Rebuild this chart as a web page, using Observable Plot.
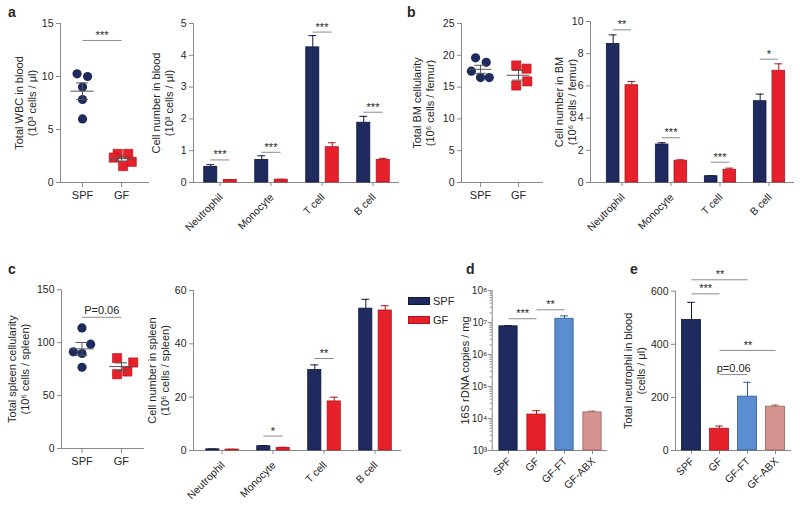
<!DOCTYPE html>
<html><head><meta charset="utf-8">
<script src="https://cdn.jsdelivr.net/npm/d3@7"></script>
<script src="https://cdn.jsdelivr.net/npm/@observablehq/plot@0.6"></script>
<style>
body{margin:0;background:#fff;}
#fig{position:relative;width:800px;height:506px;overflow:hidden;background:#fff;font-family:"Liberation Sans",Arial,Helvetica,sans-serif;color:#262626;}
.lab{position:absolute;font-weight:bold;font-size:14px;line-height:1;}
.sw{position:absolute;width:22px;height:8px;box-sizing:border-box;border:1px solid;}
.swt{position:absolute;font-size:11px;line-height:1;}
</style></head><body><div id="fig"></div>
<script>
// ---------- data ----------
const groups = ["SPF", "GF"];
const cells = ["Neutrophil", "Monocyte", "T cell", "B cell"];
const treat = ["SPF", "GF", "GF-FT", "GF-ABX"];

// a: total WBC in blood (10^3 cells/µl)
const wbcSPF = [10.25, 10.0, 9.0, 7.83, 6.0];
const wbcSPFjit = [-0.14, 0.13, 0, 0, 0];
const wbcGF = [2.7, 2.7, 2.35, 1.95, 1.55];
const wbcGFjit = [-0.1, 0.17, -0.2, 0.26, 0.04];
// a: cell numbers in blood
const bloodSPF = [0.49, 0.71, 4.25, 1.88];
const bloodSPFerr = [0.07, 0.13, 0.37, 0.2];
const bloodGF = [0.08, 0.09, 1.11, 0.71];
const bloodGFerr = [0.01, 0.01, 0.14, 0.05];
const bloodSig = [{c: "Neutrophil", y: 0.71, label: "***"}, {c: "Monocyte", y: 0.95, label: "***"},
                  {c: "T cell", y: 4.73, label: "***"}, {c: "B cell", y: 2.21, label: "***"}];

// b: total BM cellularity (10^6 cells/femur)
const bmSPF = [19.6, 18.9, 17.5, 16.5, 16.5];
const bmSPFjit = [-0.13, 0.15, -0.24, 0, 0.23];
const bmGF = [18.4, 17.9, 15.9, 15.25];
const bmGFjit = [-0.06, 0.21, 0.23, -0.06];
// b: cell numbers in BM
const bmCellSPF = [8.61, 2.36, 0.39, 5.05];
const bmCellSPFerr = [0.56, 0.11, 0.03, 0.44];
const bmCellGF = [6.04, 1.35, 0.79, 6.94];
const bmCellGFerr = [0.23, 0.06, 0.1, 0.43];
const bmSig = [{c: "Neutrophil", y: 9.48, label: "**"}, {c: "Monocyte", y: 2.78, label: "***"},
               {c: "T cell", y: 1.26, label: "***"}, {c: "B cell", y: 7.66, label: "*"}];

// c: total spleen cellularity (10^6 cells/spleen)
const spSPF = [114, 98.6, 91.4, 89.8, 76.8];
const spSPFjit = [0, 0.22, -0.22, 0, 0];
const spGF = [85.4, 81.3, 72.8, 70.2];
const spGFjit = [-0.11, 0.3, 0.15, -0.11];
// c: cell numbers in spleen
const spCellSPF = [0.45, 1.6, 30.2, 53.2];
const spCellSPFerr = [0.1, 0.25, 1.9, 3.5];
const spCellGF = [0.35, 1.0, 18.4, 52.5];
const spCellGFerr = [0.1, 0.2, 1.6, 1.8];
const spSig = [{c: "Monocyte", y: 5.4, label: "*"}, {c: "T cell", y: 34.5, label: "**"}];

// d: 16S rDNA copies / mg
const rdna = [7.6e6, 1.33e4, 1.31e7, 1.55e4];
const rdnaErr = [0.4e6, 0.42e4, 0.3e7, 0.15e4];
const rdnaSig = [{from: "SPF", to: "GF", y: 1.31e7, label: "***"}, {from: "GF", to: "GF-FT", y: 2.5e7, label: "**"}];

// e: total neutrophil in blood (cells/µl)
const neut = [492, 82, 203, 165];
const neutErr = [66, 10, 54, 6];
const neutSig = [{from: "SPF", to: "GF-FT", y: 643, label: "**"}, {from: "SPF", to: "GF", y: 590, label: "***"},
                 {from: "GF", to: "GF-ABX", y: 377, label: "**"}, {from: "GF", to: "GF-FT", y: 286, label: "p=0.06"}];

// ---------- style ----------
const FONT = '"Liberation Sans", Arial, Helvetica, sans-serif';
const FILL = {"SPF": "#1f2b5e", "GF": "#e6212b", "GF-FT": "#5b8ecf", "GF-ABX": "#d7938f"};
const EDGE = {"SPF": "#10183c", "GF": "#b0141c", "GF-FT": "#2e5a8f", "GF-ABX": "#98605c"};
const AX = "#8a8a8a", TXT = "#262626", SIG = "#8c8c8c";
const fig = document.getElementById("fig");

function place(svg, left, top) {
  svg.style.position = "absolute";
  svg.style.left = left + "px";
  svg.style.top = top + "px";
  svg.style.background = "transparent";
  svg.style.overflow = "visible";
  svg.style.maxWidth = "none";
  fig.appendChild(svg);
}
function styleObj() { return {fontFamily: FONT, fontSize: "10px", color: TXT, background: "transparent", overflow: "visible"}; }
function title(t, dx) {
  return Plot.text([t], {text: d => d, frameAnchor: "left", rotate: -90, dx, textAnchor: "middle",
    lineAnchor: "middle", lineHeight: 1.18, fontSize: 11, fill: TXT});
}
function yAxis(ticks, fmt = d => String(d), pad = 3, fs = 10.5) {
  return Plot.axisY({ticks, tickFormat: fmt, tickSize: 4, tickPadding: pad, stroke: AX, fill: TXT, label: null, fontSize: fs});
}
function xRotAxis(domain, dy) {
  return [
    Plot.axisX({tickSize: 4, stroke: AX, fill: "none", label: null}),
    Plot.text(domain, {x: d => d, text: d => d, frameAnchor: "bottom", rotate: -45, textAnchor: "end",
      lineAnchor: "middle", dx: 1, dy, fontSize: 10.5, fill: TXT})
  ];
}

// ---------- scatter (mean ± SEM) panels ----------
function scatter(o) {
  const pts = [
    ...o.spf.map((v, i) => ({g: "SPF", x: 1 + o.spfJ[i], v})),
    ...o.gf.map((v, i) => ({g: "GF", x: 2 + o.gfJ[i], v}))
  ];
  const stats = groups.map((g, i) => {
    const vals = i ? o.gf : o.spf;
    const m = d3.mean(vals), s = d3.deviation(vals) / Math.sqrt(vals.length);
    return {g, x: i + 1, m, lo: m - s, hi: m + s};
  });
  const marks = [
    Plot.frame({anchor: "left", stroke: AX}),
    Plot.frame({anchor: "bottom", stroke: AX}),
    yAxis(o.yticks),
    Plot.axisX({ticks: [1, 2], tickFormat: d => groups[d - 1], tickSize: 5, tickPadding: 4, stroke: AX, fill: TXT, label: null, fontSize: 11}),
    Plot.dot(pts.filter(d => d.g === "SPF"), {x: "x", y: "v", r: 4.6, fill: FILL.SPF}),
    Plot.dot(pts.filter(d => d.g === "GF"), {x: "x", y: "v", r: 5.2, symbol: "square", fill: FILL.GF, stroke: EDGE.GF, strokeWidth: 0.6}),
    Plot.ruleY(stats, {y: "m", x1: d => d.x - 0.3, x2: d => d.x + 0.3, stroke: "#555"}),
    Plot.ruleX(stats, {x: "x", y1: "lo", y2: "hi", stroke: "#555"}),
    Plot.ruleY(stats, {y: "lo", x1: d => d.x - 0.15, x2: d => d.x + 0.15, stroke: "#555"}),
    Plot.ruleY(stats, {y: "hi", x1: d => d.x - 0.15, x2: d => d.x + 0.15, stroke: "#555"}),
    title(o.title, o.tdx)
  ];
  if (o.sig) {
    marks.push(
      Plot.link([o.sig], {x1: () => 1, x2: () => 2, y1: "y", y2: "y", stroke: SIG}),
      Plot.text([o.sig], {x: () => 1.5, y: "y", text: "label", dy: o.sig.dy, lineAnchor: "bottom", fontSize: o.sig.fs, fill: TXT})
    );
  }
  const svg = Plot.plot({
    width: o.width, height: o.height,
    marginLeft: o.ml, marginRight: o.mr, marginTop: o.mt, marginBottom: o.mb,
    style: styleObj(),
    x: {domain: o.xdom}, y: {domain: o.ydom},
    marks
  });
  place(svg, o.left, o.top);
}

// ---------- grouped SPF/GF bar panels ----------
function pairBars(o) {
  const bw = (o.width - o.ml - o.mr - o.inset) / cells.length;
  const rows = cells.flatMap((c, i) => [
    {c, g: "SPF", v: o.spf[i], e: o.spfE[i]},
    {c, g: "GF", v: o.gf[i], e: o.gfE[i]}
  ]);
  const pos = {SPF: [0.19, 0.45], GF: [0.57, 0.83]};
  const marks = [Plot.frame({anchor: "left", stroke: AX}), Plot.frame({anchor: "bottom", stroke: AX}), yAxis(o.yticks),
    ...xRotAxis(cells, 13)];
  for (const g of groups) {
    const [a, b] = pos[g];
    const d = rows.filter(r => r.g === g);
    const mid = (a + b) / 2 * bw;
    marks.push(
      Plot.ruleX(d, {x: "c", y1: "v", y2: r => r.v + r.e, dx: mid - bw / 2, stroke: EDGE[g]}),
      Plot.tickY(d, {x: "c", y: r => r.v + r.e, insetLeft: mid - 4, insetRight: bw - mid - 4, stroke: EDGE[g]}),
      Plot.barY(d, {x: "c", y: "v", fill: FILL[g], stroke: EDGE[g], strokeWidth: 0.8, insetLeft: a * bw, insetRight: (1 - b) * bw})
    );
  }
  marks.push(
    Plot.tickY(o.sig, {x: "c", y: "y", insetLeft: 0.32 * bw, insetRight: 0.30 * bw, stroke: SIG}),
    Plot.text(o.sig, {x: "c", y: "y", text: "label", dy: -1.5, lineAnchor: "bottom", fontSize: 11, fill: TXT}),
    title(o.title, o.tdx)
  );
  const svg = Plot.plot({
    width: o.width, height: o.height,
    marginLeft: o.ml, marginRight: o.mr, marginTop: o.mt, marginBottom: o.mb,
    style: styleObj(),
    x: {type: "band", domain: cells, padding: 0, insetLeft: o.inset},
    y: {domain: o.ydom},
    marks
  });
  place(svg, o.left, o.top);
}

// ---------- four-treatment bar panels ----------
function quadBars(o) {
  const bw = (o.width - o.ml - o.mr - o.inset) / treat.length;
  const rows = treat.map((g, i) => ({g, v: o.vals[i], e: o.errs[i]}));
  const base = o.ydom[0];
  const ins = (bw - o.barW) / 2;
  const marks = [Plot.frame({anchor: "left", stroke: AX}), Plot.frame({anchor: "bottom", stroke: AX})];
  marks.push(...o.yAxes);
  marks.push(...xRotAxis(treat, 9));
  for (const r of rows) {
    marks.push(
      Plot.ruleX([r], {x: "g", y1: "v", y2: d => d.v + d.e, stroke: EDGE[r.g]}),
      Plot.tickY([r], {x: "g", y: d => d.v + d.e, insetLeft: bw / 2 - 4, insetRight: bw / 2 - 4, stroke: EDGE[r.g]}),
      Plot.barY([r], {x: "g", y1: () => base, y2: "v", fill: FILL[r.g], stroke: EDGE[r.g], strokeWidth: 0.8, insetLeft: ins, insetRight: ins})
    );
  }
  for (const s of o.sig) {
    const k = treat.indexOf(s.to) - treat.indexOf(s.from);
    marks.push(
      Plot.link([s], {x1: "from", x2: "to", y1: "y", y2: "y", stroke: SIG}),
      Plot.text([s], {x: "from", y: "y", text: "label", dx: k / 2 * bw, dy: s.label.startsWith("p") ? -3 : -1.5,
        lineAnchor: "bottom", fontSize: 11, fill: TXT})
    );
  }
  marks.push(title(o.title, o.tdx));
  const svg = Plot.plot({
    width: o.width, height: o.height,
    marginLeft: o.ml, marginRight: o.mr, marginTop: o.mt, marginBottom: o.mb,
    style: styleObj(),
    x: {type: "band", domain: treat, padding: 0, insetLeft: o.inset},
    y: o.yScale,
    marks
  });
  place(svg, o.left, o.top);
}

// ---------- panels ----------
scatter({left: 0, top: 0, width: 160, height: 250, ml: 60, mr: 12, mt: 23, mb: 68,
  xdom: [0.436, 2.69], ydom: [0, 15], yticks: [0, 5, 10, 15],
  spf: wbcSPF, spfJ: wbcSPFjit, gf: wbcGF, gfJ: wbcGFjit,
  title: "Total WBC in blood\n(10³ cells / μl)", tdx: -35,
  sig: {y: 13.4, label: "***", fs: 11, dy: -1.5}});

pairBars({left: 140, top: 0, width: 260, height: 250, ml: 53, mr: 2, mt: 23, mb: 68, inset: 0,
  ydom: [0, 5], yticks: [0, 1, 2, 3, 4, 5],
  spf: bloodSPF, spfE: bloodSPFerr, gf: bloodGF, gfE: bloodGFerr, sig: bloodSig,
  title: "Cell number in blood\n(10³ cells / μl)", tdx: -31});

scatter({left: 400, top: 0, width: 160, height: 250, ml: 61, mr: 18, mt: 23, mb: 68,
  xdom: [0.5, 2.63], ydom: [0, 25], yticks: [0, 5, 10, 15, 20, 25],
  spf: bmSPF, spfJ: bmSPFjit, gf: bmGF, gfJ: bmGFjit,
  title: "Total BM cellularity\n(10⁶ cells / femur)", tdx: -37.7});

pairBars({left: 540, top: 0, width: 260, height: 250, ml: 50, mr: 7, mt: 21, mb: 68, inset: 6.5,
  ydom: [0, 10], yticks: [0, 2, 4, 6, 8, 10],
  spf: bmCellSPF, spfE: bmCellSPFerr, gf: bmCellGF, gfE: bmCellGFerr, sig: bmSig,
  title: "Cell number in BM\n(10⁶ cells / femur)", tdx: -25.5});

scatter({left: 0, top: 250, width: 160, height: 256, ml: 61, mr: 17, mt: 39.3, mb: 58,
  xdom: [0.48, 2.56], ydom: [0, 150], yticks: [0, 50, 100, 150],
  spf: spSPF, spfJ: spSPFjit, gf: spGF, gfJ: spGFjit,
  title: "Total spleen cellularity\n(10⁶ cells / spleen)", tdx: -42.7,
  sig: {y: 124, label: "P=0.06", fs: 11, dy: -3}});

pairBars({left: 140, top: 250, width: 262, height: 256, ml: 53, mr: 2, mt: 40, mb: 56, inset: 2.5,
  ydom: [0, 60], yticks: [0, 20, 40, 60],
  spf: spCellSPF, spfE: spCellSPFerr, gf: spCellGF, gfE: spCellGFerr, sig: spSig,
  title: "Cell number in spleen\n(10⁶ cells / spleen)", tdx: -34.7});

const SUP = {"0": "⁰", "1": "¹", "2": "²", "3": "³", "4": "⁴", "5": "⁵", "6": "⁶", "7": "⁷", "8": "⁸", "9": "⁹"};
const logDomain = [1e3, 1e8];
const allLog = d3.scaleLog().domain(logDomain).ticks();
const majorLog = allLog.filter(v => Number.isInteger(Math.round(Math.log10(v) * 1e6) / 1e6));
const minorLog = allLog.filter(v => !majorLog.includes(v));
quadBars({left: 420, top: 250, width: 190, height: 256, ml: 71.7, mr: 4, mt: 40, mb: 56, inset: 1.3, barW: 18.5,
  vals: rdna, errs: rdnaErr, ydom: logDomain, yScale: {type: "log", domain: logDomain},
  yAxes: [
    Plot.axisY({ticks: minorLog, tickSize: 2, stroke: AX, fill: "none", label: null}),
    yAxis(majorLog, v => "10" + String(Math.round(Math.log10(v))).split("").map(c => SUP[c]).join(""), 1, 10)
  ],
  sig: rdnaSig, title: "16S rDNA copies / mg", tdx: -27});

quadBars({left: 600, top: 250, width: 200, height: 256, ml: 75, mr: 10, mt: 40.7, mb: 56, inset: 1.25, barW: 19.5,
  vals: neut, errs: neutErr, ydom: [0, 600], yScale: {domain: [0, 600]},
  yAxes: [yAxis([0, 200, 400, 600])],
  sig: neutSig, title: "Total neutrophil in blood\n(cells / μl)", tdx: -41});

// ---------- panel letters & legend ----------
const letters = [["a", 8, 5], ["b", 407, 5], ["c", 8, 262], ["d", 466, 262], ["e", 630, 262]];
for (const [t, x, y] of letters) {
  const el = document.createElement("div");
  el.className = "lab"; el.textContent = t; el.style.left = x + "px"; el.style.top = y + "px";
  fig.appendChild(el);
}
groups.forEach((g, i) => {
  const sw = document.createElement("div");
  sw.className = "sw";
  sw.style.left = "408px"; sw.style.top = (297 + i * 19) + "px";
  sw.style.background = FILL[g]; sw.style.borderColor = EDGE[g];
  fig.appendChild(sw);
  const t = document.createElement("div");
  t.className = "swt"; t.textContent = g;
  t.style.left = "433px"; t.style.top = (295.5 + i * 19) + "px";
  fig.appendChild(t);
});
</script></body></html>
